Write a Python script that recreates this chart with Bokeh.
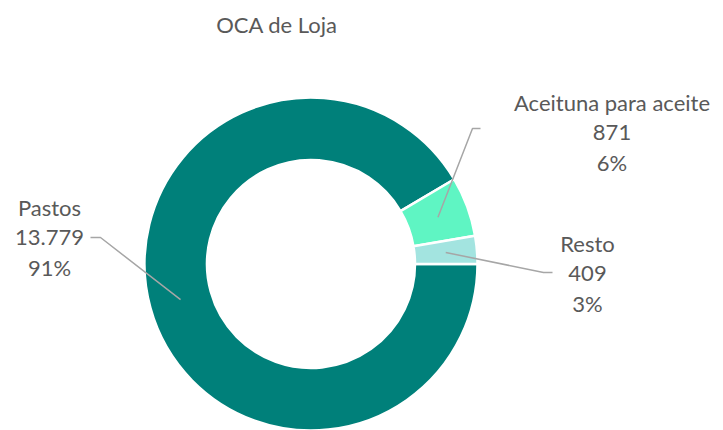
import math
from bokeh.plotting import figure
from bokeh.models import Range1d, ColumnDataSource
from bokeh.core.properties import value
from bokeh.embed import file_html
from bokeh.resources import INLINE

# ---- data ----
title_text = "OCA de Loja"
categories = ["Pastos", "Aceituna para aceite", "Resto"]
values = [13779, 871, 409]
pct_labels = [91, 6, 3]
colors = ["#00807A", "#5FF5C3", "#A3E4E0"]

# ---- layout ----
W, H = 723, 430
CX, CY = 310.5, 166.5          # donut centre (data units == pixels)
R_OUT, R_IN = 166.5, 104.0
FONT = "Lato"
TXT = "#595959"
FS = "22px"
# label centre (x, y of first line) and leader elbow/end points per category
label_pos = {
    "Pastos": (49, 223),
    "Aceituna para aceite": (611.5, 328.5),
    "Resto": (587, 187),
}
leader_pts = {
    "Pastos": [(100, 193), (90, 193)],
    "Aceituna para aceite": [(472, 302), (480, 302)],
    "Resto": [(543, 158), (552, 158)],
}
LINE_GAP = 30

p = figure(width=W, height=H, x_range=Range1d(0, W), y_range=Range1d(0, H),
           output_backend="svg", toolbar_location=None,
           x_axis_location=None, y_axis_location=None, min_border=0)
p.grid.visible = False
p.outline_line_color = None
p.background_fill_color = "white"

# angles: start at 3 o'clock, anticlockwise, drawn in reverse category order
total = float(sum(values))
starts, ends = {}, {}
a = 0.0
for cat, v in reversed(list(zip(categories, values))):
    span = v / total * 2 * math.pi
    starts[cat] = a
    ends[cat] = a + span
    a += span

src = ColumnDataSource(dict(
    x=[CX] * len(categories), y=[CY] * len(categories),
    start=[starts[c] for c in categories], end=[ends[c] for c in categories],
    color=colors,
))
p.annular_wedge(x="x", y="y", inner_radius=R_IN, outer_radius=R_OUT,
                start_angle="start", end_angle="end", fill_color="color",
                line_color="white", line_width=2.5, source=src)

# leader lines
r_mid = (R_IN + R_OUT) / 2
for cat in categories:
    mid = (starts[cat] + ends[cat]) / 2
    ax, ay = CX + r_mid * math.cos(mid), CY + r_mid * math.sin(mid)
    xs = [ax] + [pt[0] for pt in leader_pts[cat]]
    ys = [ay] + [pt[1] for pt in leader_pts[cat]]
    p.line(xs, ys, line_color="#A6A6A6", line_width=1.5)

# labels
lx, ly, lt = [], [], []
for cat, v, pc in zip(categories, values, pct_labels):
    x0, y0 = label_pos[cat]
    lines = [cat, f"{v:,}".replace(",", "."), f"{pc}%"]
    for i, t in enumerate(lines):
        lx.append(x0)
        ly.append(y0 - i * LINE_GAP)
        lt.append(t)
p.text(x=lx, y=ly, text=lt, text_font=value(FONT), text_font_size=FS,
       text_color=TXT, text_align="center", text_baseline="middle")

# title
p.text(x=[276.5], y=[406], text=[title_text], text_font=value(FONT),
       text_font_size=FS, text_color=TXT, text_align="center",
       text_baseline="middle")

open("out.html", "w").write(file_html(p, INLINE))
